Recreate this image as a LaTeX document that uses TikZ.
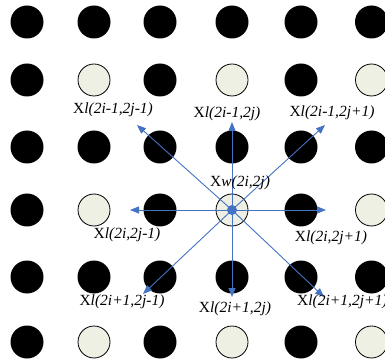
\documentclass[tikz,border=0pt]{standalone}
\usepackage{fontspec}
\setmainfont{Liberation Serif}
\usetikzlibrary{arrows.meta}

\definecolor{pixfill}{RGB}{238,240,228}
\definecolor{arrblue}{RGB}{68,114,196}

\tikzset{
  dark/.style={circle, fill=black, minimum size=33pt, inner sep=0pt},
  pale/.style={circle, fill=pixfill, draw=black, line width=0.8pt, minimum size=32pt, inner sep=0pt},
  nbr/.style={draw=arrblue, line width=0.9pt, -{Triangle[length=9pt, width=7pt]}},
  lbl/.style={inner sep=0pt, font=\fontsize{15.5}{17}\selectfont}
}

\begin{document}
\begin{tikzpicture}[x=1pt, y=-1pt]
\useasboundingbox (0,0) rectangle (385,363);
% row 1
\node[dark] (a11) at (27,22) {};
\node[dark] (a12) at (94,22) {};
\node[dark] (a13) at (160,22) {};
\node[dark] (a14) at (232,22) {};
\node[dark] (a15) at (301,22) {};
\node[dark] (a16) at (371.5,22) {};
% row 2
\node[dark] (a21) at (27,80) {};
\node[pale] (a22) at (94,80) {};
\node[dark] (a23) at (160,80) {};
\node[pale] (a24) at (232,80) {};
\node[dark] (a25) at (301,80) {};
\node[pale] (a26) at (371.5,80) {};
% row 3
\node[dark] (a31) at (27,147) {};
\node[dark] (a32) at (94,147) {};
\node[dark] (a33) at (160,147) {};
\node[dark] (a34) at (232,147) {};
\node[dark] (a35) at (301,147) {};
\node[dark] (a36) at (371.5,147) {};
% row 4
\node[dark] (a41) at (27,210) {};
\node[pale] (a42) at (94,210) {};
\node[dark] (a43) at (160,210) {};
\node[pale] (a44) at (232,210) {};
\node[dark] (a45) at (301,210) {};
\node[pale] (a46) at (371.5,210) {};
% row 5
\node[dark] (a51) at (27,277) {};
\node[dark] (a52) at (94,277) {};
\node[dark] (a53) at (160,277) {};
\node[dark] (a54) at (232,277) {};
\node[dark] (a55) at (301,277) {};
\node[dark] (a56) at (371.5,277) {};
% row 6
\node[dark] (a61) at (27,342) {};
\node[pale] (a62) at (94,342) {};
\node[dark] (a63) at (160,342) {};
\node[pale] (a64) at (232,342) {};
\node[dark] (a65) at (301,342) {};
\node[pale] (a66) at (371.5,342) {};
% arrows out of the centre pixel
\coordinate (ul) at (137,125);
\coordinate (up) at (232,122);
\coordinate (ur) at (325,125);
\coordinate (lf) at (130,210);
\coordinate (rt) at (326,210);
\coordinate (dl) at (143,294);
\coordinate (dn) at (232,297);
\coordinate (dr) at (324,297);
\draw[nbr] (a44.center) -- (ul);
\draw[nbr] (a44.center) -- (up);
\draw[nbr] (a44.center) -- (ur);
\draw[nbr] (a44.center) -- (lf);
\draw[nbr] (a44.center) -- (rt);
\draw[nbr] (a44.center) -- (dl);
\draw[nbr] (a44.center) -- (dn);
\draw[nbr] (a44.center) -- (dr);
\fill[arrblue] (a44.center) circle (5);
% labels
\node[lbl] (t1) at (113,110) {X\textit{l(2i-1,2j-1)}};
\node[lbl] (t2) at (227,114) {X\textit{l(2i-1,2j)}};
\node[lbl] (t3) at (332,113) {X\textit{l(2i-1,2j+1)}};
\node[lbl] (t4) at (240,183) {X\textit{w(2i,2j)}};
\node[lbl] (t5) at (127,235) {X\textit{l(2i,2j-1)}};
\node[lbl] (t6) at (331,238) {X\textit{l(2i,2j+1)}};
\node[lbl] (t7) at (122,302) {X\textit{l(2i+1,2j-1)}};
\node[lbl] (t8) at (235,309) {X\textit{l(2i+1,2j)}};
\node[lbl, anchor=west] (t9) at (297,302) {X\textit{l(2i+1,2j+1)}};
\end{tikzpicture}
\end{document}
